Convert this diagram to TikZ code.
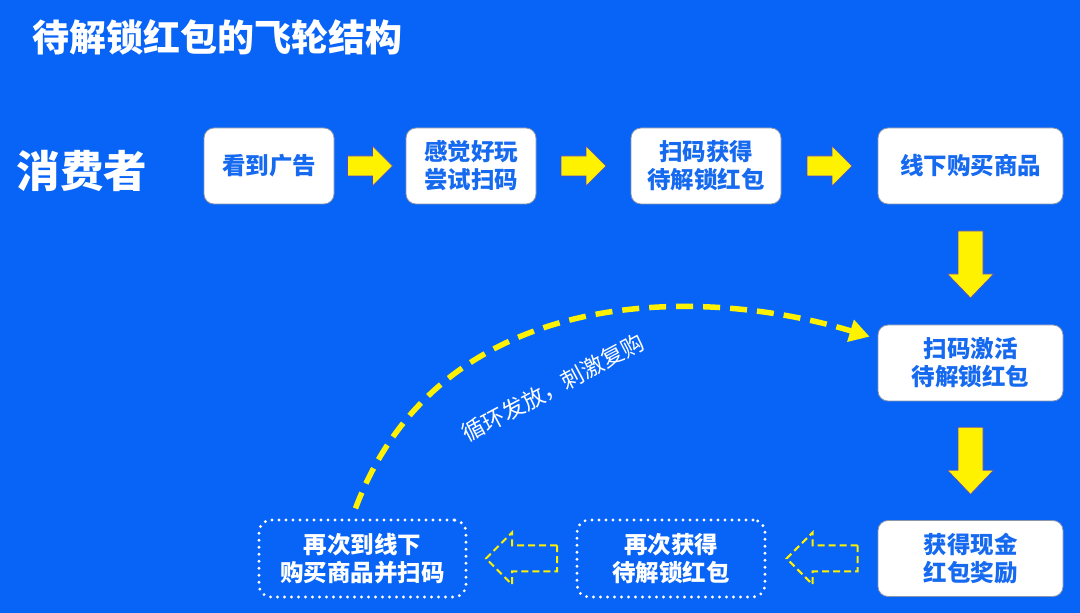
\documentclass[tikz,border=0pt]{standalone}
\usepackage{fontspec}
\newfontfamily\cjk{Noto Sans CJK SC}
\usetikzlibrary{calc,arrows.meta}
\definecolor{bgblue}{RGB}{8,100,246}
\definecolor{txtblue}{RGB}{22,106,240}
\definecolor{rimgray}{RGB}{140,150,170}
\definecolor{arrowrim}{RGB}{90,70,200}
\begin{document}
\begin{tikzpicture}[x=1pt,y=1pt,font=\cjk]


\tikzset{
	card/.style={draw=rimgray, line width=0.8pt, fill=white, rounded corners=10pt, minimum height=76pt, inner sep=0pt, align=center, text=txtblue, font=\cjk\bfseries\fontsize{23.5}{28}\selectfont},
	ghost/.style={draw=white, line width=3.2pt, line cap=round, dash pattern=on 0pt off 7pt, rounded corners=12pt, minimum height=77pt, inner sep=0pt, align=center, text=white, font=\cjk\bfseries\fontsize{23.5}{28}\selectfont},
	solidarrow/.style={fill=yellow, draw=arrowrim, line width=0.6pt},
	dasharrow/.style={draw=yellow, line width=2pt, dash pattern=on 7pt off 4pt},
	pics/blockarrow/.style n args={5}{code={
      \draw[#5] (-0.5*#1,-#2) -- (0.5*#1-#4,-#2) -- (0.5*#1-#4,-#3) -- (0.5*#1,0)
        -- (0.5*#1-#4,#3) -- (0.5*#1-#4,#2) -- (-0.5*#1,#2) -- cycle;
    }}
}

\fill[bgblue] (0,0) rectangle (1080,613);

\node[anchor=west, text=white, font=\cjk\bfseries\fontsize{37}{42}\selectfont] (title) at (29,576) {待解锁红包的飞轮结构};
\node[anchor=west, text=white, font=\cjk\bfseries\fontsize{43.5}{48}\selectfont] (consumer) at (13,442) {消费者};

\node[card, minimum width=130pt] (look) at (269,447) {看到广告};
\node[card, minimum width=130pt] (try) at (471,447) {感觉好玩\\尝试扫码};
\node[card, minimum width=150pt] (get) at (706,447) {扫码获得\\待解锁红包};
\node[card, minimum width=185pt] (buy) at (970.5,447) {线下购买商品};
\node[card, minimum width=185pt] (activate) at (970.5,250) {扫码激活\\待解锁红包};
\node[card, minimum width=185pt] (cash) at (970.5,54.5) {获得现金\\红包奖励};
\node[ghost, minimum width=188pt] (again) at (671,54.5) {再次获得\\待解锁红包};
\node[ghost, minimum width=207pt] (rebuy) at (362.5,54.5) {再次到线下\\购买商品并扫码};

\pic at ($(look.east)!0.5!(try.west)$) {blockarrow={45}{10}{20}{20}{solidarrow}};
\pic at ($(try.east)!0.5!(get.west)$) {blockarrow={45}{10}{20}{20}{solidarrow}};
\pic at ($(get.east)!0.5!(buy.west)$) {blockarrow={45}{10}{20}{20}{solidarrow}};
\pic[rotate=-90] at ($(buy.south)!0.5!(activate.north)$) {blockarrow={67}{12.5}{23}{24}{solidarrow}};
\pic[rotate=-90] at ($(activate.south)!0.5!(cash.north)$) {blockarrow={67}{12.5}{23}{24}{solidarrow}};
\pic[rotate=180] at ($(cash.west)!0.5!(again.east)$) {blockarrow={71}{13}{26}{26}{dasharrow}};
\pic[rotate=180] at ($(again.west)!0.5!(rebuy.east)$) {blockarrow={71}{13}{26}{26}{dasharrow}};

% loop back
\coordinate (from) at ($(rebuy.north)+(-7,10)$);
\coordinate (to) at ($(activate.north west)+(-8,-12)$);
\draw[yellow, line width=5.5pt, dash pattern=on 17pt off 10pt, -{Triangle[length=20pt,width=22pt]}]
  (from) .. controls (440,330) and (700,328) .. (to);
\node[text=white, rotate=28, font=\cjk\fontsize{22.5}{26}\selectfont] (loop) at (553,225) {循环发放，刺激复购};

\end{tikzpicture}
\end{document}
